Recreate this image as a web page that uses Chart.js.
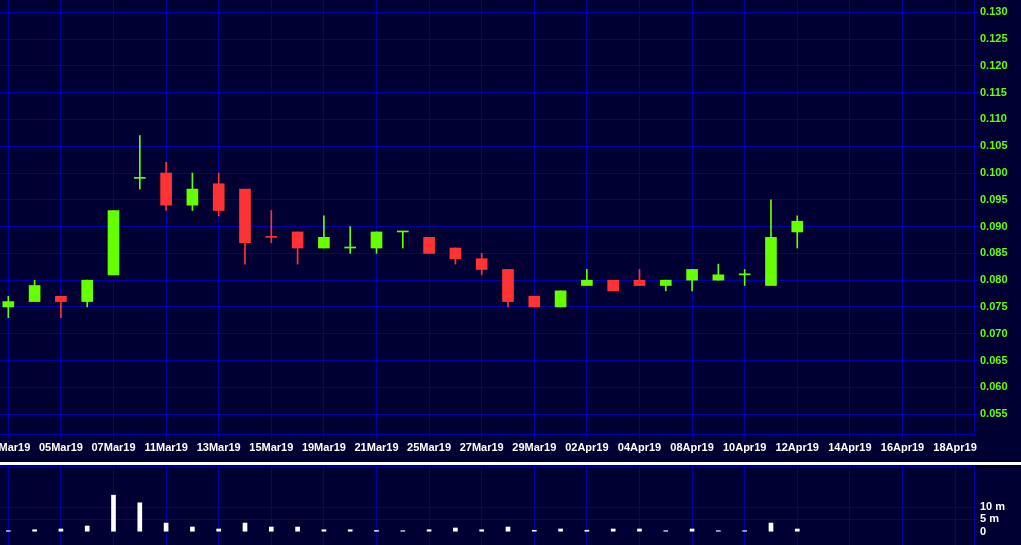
<!DOCTYPE html>
<html>
<head>
<meta charset="utf-8">
<script src="https://cdn.jsdelivr.net/npm/chart.js@4"></script>
<style>
  html, body { margin: 0; padding: 0; background: #000033; overflow: hidden; width: 1021px; height: 545px; position: relative; }
  #priceChart { position: absolute; left: -30px; top: -10px; }
  #volumeChart { position: absolute; left: -30px; top: 456px; }
  #divider { position: absolute; left: 0; top: 462px; width: 1021px; height: 3px; background: #ffffff; }
</style>
</head>
<body>
<canvas id="priceChart" width="1051" height="470"></canvas>
<canvas id="volumeChart" width="1051" height="104"></canvas>
<div id="divider"></div>
<script>
// Slot labels (trading days, then the empty days to the right)
const dates = [
    '01Mar19', '04Mar19', '05Mar19', '06Mar19', '07Mar19', '08Mar19', '11Mar19', '12Mar19',
    '13Mar19', '14Mar19', '15Mar19', '18Mar19', '19Mar19', '20Mar19', '21Mar19', '22Mar19',
    '25Mar19', '26Mar19', '27Mar19', '28Mar19', '29Mar19', '01Apr19', '02Apr19', '03Apr19',
    '04Apr19', '05Apr19', '08Apr19', '09Apr19', '10Apr19', '11Apr19', '12Apr19', '13Apr19',
    '14Apr19', '15Apr19', '16Apr19', '17Apr19', '18Apr19'
]

// OHLC
const opens  = [0.075, 0.076, 0.077, 0.076, 0.081, 0.099, 0.100, 0.094, 0.098, 0.097, 0.0881, 0.089, 0.086, 0.086, 0.086, 0.089,
                0.088, 0.086, 0.084, 0.082, 0.077, 0.075, 0.079, 0.080, 0.080, 0.079, 0.080, 0.080, 0.081, 0.079, 0.089]
const highs  = [0.077, 0.080, 0.077, 0.080, 0.093, 0.107, 0.102, 0.100, 0.100, 0.097, 0.093, 0.089, 0.092, 0.090, 0.089, 0.089,
                0.088, 0.086, 0.085, 0.082, 0.077, 0.078, 0.082, 0.080, 0.082, 0.080, 0.082, 0.083, 0.082, 0.095, 0.092]
const lows   = [0.073, 0.076, 0.073, 0.075, 0.081, 0.097, 0.093, 0.093, 0.092, 0.083, 0.087, 0.083, 0.086, 0.085, 0.085, 0.086,
                0.085, 0.083, 0.081, 0.075, 0.075, 0.075, 0.079, 0.078, 0.079, 0.078, 0.078, 0.080, 0.079, 0.079, 0.086]
const closes = [0.076, 0.079, 0.076, 0.080, 0.093, 0.099, 0.094, 0.097, 0.093, 0.087, 0.088, 0.086, 0.088, 0.086, 0.089, 0.089,
                0.085, 0.084, 0.082, 0.076, 0.075, 0.078, 0.080, 0.078, 0.079, 0.080, 0.082, 0.081, 0.081, 0.088, 0.091]

// Volume, millions
const volumes = [0.2, 0.8, 1.1, 2.3, 14.8, 11.7, 3.5, 1.9, 1.1, 3.5, 1.9, 1.9, 0.8, 0.8, 0.5, 0.2,
                 0.8, 1.5, 0.8, 1.9, 0.6, 1.1, 0.6, 1.1, 1.1, 0.3, 1.1, 0.3, 0.3, 3.5, 1.1]
const volumeTicks = [0, 5, 10]

// Axis ranges
const X_MIN = -0.316
const X_MAX = 36.72
const PRICE_MIN = 0.05128
const PRICE_MAX = 0.1323
const VOL_MIN = -7.4
const VOL_MAX = 26.6

const UP = '#66ff00'
const DOWN = '#ff3333'
const GRID = '#0000a8'

Chart.defaults.font = { family: 'Liberation Sans', size: 11, weight: 'bold' }
Chart.defaults.animation = false

const candleColors = opens.map((o, i) => closes[i] >= o ? UP : DOWN)

const render = () => {
    // Price pane
    new Chart(document.getElementById('priceChart'), {
        type: 'bar',
        data: {
            datasets: [{
                data: opens.map((o, i) => ({ x: i, y: [o, closes[i]] })),
                backgroundColor: candleColors,
                barThickness: 11,
                minBarLength: 1,
                grouped: false,
            }, {
                data: highs.map((h, i) => ({ x: i, y: [lows[i], h] })),
                backgroundColor: candleColors,
                barThickness: 1,
                grouped: false,
            }]
        },
        options: {
            responsive: false,
            layout: { padding: { left: 30, top: 10, right: 0, bottom: 0 } },
            plugins: { legend: { display: false }, tooltip: { enabled: false } },
            scales: {
                x: {
                    type: 'linear',
                    offset: false,
                    min: X_MIN,
                    max: X_MAX,
                    afterFit: (s) => { s.height = 26 },
                    grid: { color: GRID, tickLength: 5, offset: false },
                    border: { color: GRID },
                    ticks: {
                        stepSize: 2,
                        includeBounds: false,
                        autoSkip: false,
                        maxRotation: 0,
                        padding: 2,
                        color: '#ffffff',
                        callback: (v) => dates[v] ?? '',
                    },
                },
                y: {
                    position: 'right',
                    min: PRICE_MIN,
                    max: PRICE_MAX,
                    afterFit: (s) => { s.width = 47 },
                    grid: { color: GRID, tickLength: 5 },
                    border: { color: GRID },
                    ticks: {
                        stepSize: 0.005,
                        includeBounds: false,
                        padding: 1,
                        color: UP,
                        callback: (v) => v.toFixed(3),
                    },
                },
            },
        },
    })

    // Volume pane
    new Chart(document.getElementById('volumeChart'), {
        type: 'bar',
        data: {
            datasets: [{
                data: volumes.map((v, i) => ({ x: i, y: v })),
                backgroundColor: '#ffffff',
                barThickness: 4,
                minBarLength: 1,
            }]
        },
        options: {
            responsive: false,
            layout: { padding: { left: 30, top: 10, right: 0, bottom: 10 } },
            plugins: { legend: { display: false }, tooltip: { enabled: false } },
            scales: {
                x: {
                    type: 'linear',
                    position: 'top',
                    offset: false,
                    min: X_MIN,
                    max: X_MAX,
                    afterFit: (s) => { s.height = 0 },
                    grid: { color: GRID, drawTicks: false, offset: false },
                    border: { color: GRID },
                    ticks: { display: false, stepSize: 2, includeBounds: false },
                },
                y: {
                    position: 'right',
                    min: VOL_MIN,
                    max: VOL_MAX,
                    afterFit: (s) => { s.width = 47 },
                    afterBuildTicks: (s) => {
                        s.ticks = s.ticks.filter(t => volumeTicks.includes(t.value))
                    },
                    grid: {
                        color: (ctx) => ctx.tick && ctx.tick.value === 0 ? 'rgba(0,0,0,0)' : GRID,
                        tickColor: GRID,
                        tickLength: 5,
                    },
                    border: { color: GRID },
                    ticks: {
                        stepSize: 5,
                        includeBounds: false,
                        padding: 1,
                        color: '#ffffff',
                        callback: (v) => v === 0 ? '0' : v + ' m',
                    },
                },
            },
        },
    })
}

render()
</script>
</body>
</html>
